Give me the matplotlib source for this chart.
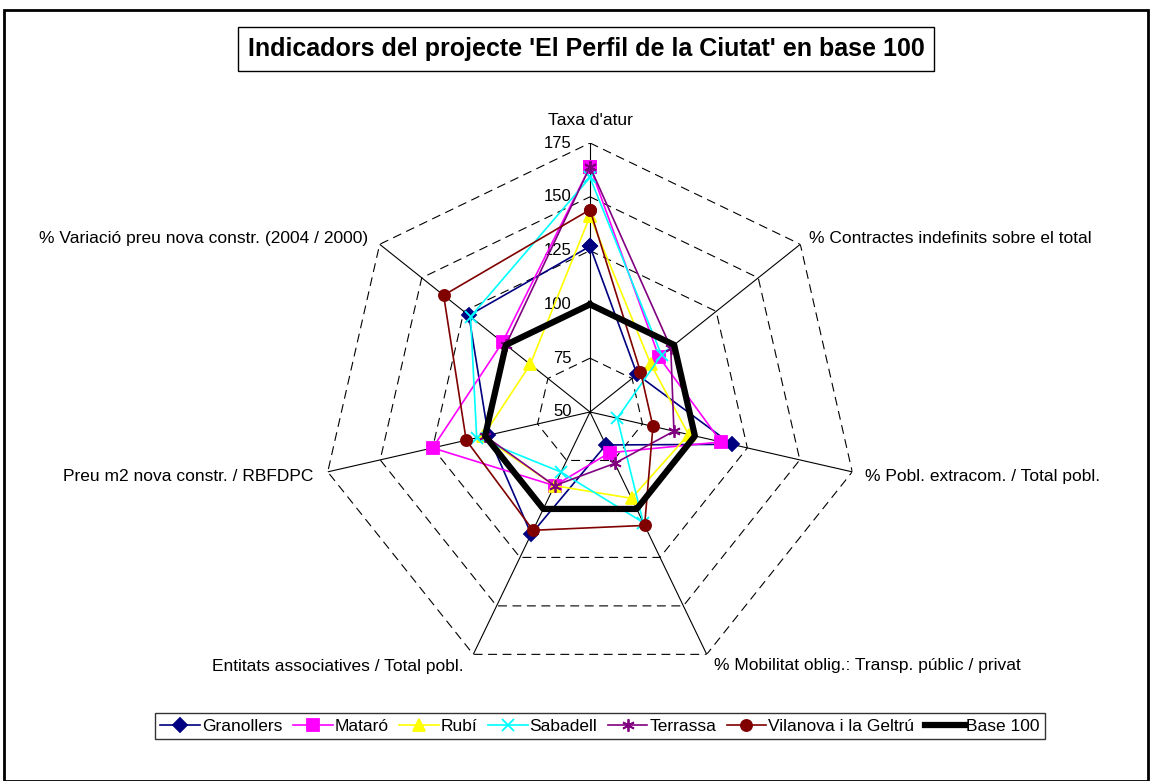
import numpy as np
import matplotlib
matplotlib.use("Agg")
import matplotlib.pyplot as plt
from matplotlib.patches import Rectangle

plt.rcParams['font.family'] = ['Liberation Sans', 'DejaVu Sans']

# Dades llegides del gràfic
categories = ["Taxa d'atur",
              "% Contractes indefinits sobre el total",
              "% Pobl. extracom. / Total pobl.",
              "% Mobilitat oblig.: Transp. públic / privat",
              "Entitats associatives / Total pobl.",
              "Preu m2 nova constr. / RBFDPC",
              "% Variació preu nova constr. (2004 / 2000)"]

granollers = [127, 78, 117.5, 67, 113, 98.5, 122]
mataro = [164, 91, 112.5, 71, 88, 125, 102]
rubi = [141, 86, 97, 94.5, 88, 101, 85.5]
sabadell = [159, 92.5, 63, 107, 81, 104, 121]
terrassa = [164, 98, 90, 76.5, 88, 100, 100]
vilanova = [144, 80, 80, 108.5, 111, 109, 137]
base100 = [100, 100, 100, 100, 100, 100, 100]

r_ticks = [50, 75, 100, 125, 150, 175]

series = [
    ("Granollers", granollers, "#000080", "D", 7),
    ("Mataró", mataro, "#FF00FF", "s", 8),
    ("Rubí", rubi, "#FFFF00", "^", 8),
    ("Sabadell", sabadell, "#00FFFF", "x", 8),
    ("Terrassa", terrassa, "#800080", (6, 2, 0), 9),
    ("Vilanova i la Geltrú", vilanova, "#800000", "o", 8),
]

n = len(categories)
theta = np.linspace(0, 2 * np.pi, n, endpoint=False)
theta_c = np.append(theta, theta[0])

fig = plt.figure(figsize=(11.51, 7.81), dpi=100)

# marc exterior
fig.patches.append(Rectangle((4 / 1151, 0), 1144 / 1151, 1 - 10 / 781,
                             transform=fig.transFigure, fill=False,
                             edgecolor="black", linewidth=2))

ax = fig.add_axes([321 / 1151, 100 / 781, 538 / 1151, 538 / 781],
                  projection="polar")
ax.set_theta_offset(np.pi / 2)
ax.set_theta_direction(-1)
ax.set_ylim(50, 175)
ax.grid(False)
ax.set_xticks([])
ax.set_yticks([])
ax.spines["polar"].set_visible(False)
ax.patch.set_alpha(0)

# graella poligonal discontinua
for r in r_ticks[1:]:
    ax.plot(theta_c, [r] * (n + 1), color="black", lw=0.8,
            linestyle=(0, (8, 5)), zorder=1)
# radis
for t in theta:
    ax.plot([t, t], [50, 175], color="black", lw=0.8, zorder=1)

# etiquetes de l'eix radial
for r in r_ticks:
    ax.annotate(str(r), (0, r), xytext=(-13, 0), textcoords="offset points",
                ha="right", va="center", fontsize=12)

# etiquetes de categories
label_pos = [
    ((0, 11), "center", "bottom"),
    ((6, 4), "left", "center"),
    ((9, -3), "left", "center"),
    ((5, -8), "left", "center"),
    ((-7, -9), "right", "center"),
    ((-10, -3), "right", "center"),
    ((-8, 4), "right", "center"),
]
for t, lab, (off, ha, va) in zip(theta, categories, label_pos):
    ax.annotate(lab, (t, 175), xytext=off, textcoords="offset points",
                ha=ha, va=va, fontsize=12.5)

handles = []
for name, vals, col, mk, ms in series:
    v = np.append(vals, vals[0])
    h, = ax.plot(theta_c, v, color=col, lw=1.2, marker=mk, markersize=ms,
                 markerfacecolor=col, markeredgecolor=col, markeredgewidth=1.3,
                 label=name, zorder=3, clip_on=False)
    handles.append(h)

v = np.append(base100, base100[0])
h, = ax.plot(theta_c, v, color="black", lw=4.5, label="Base 100", zorder=4)
handles.append(h)

leg = fig.legend(handles=handles, loc="center", ncol=7,
                 bbox_to_anchor=(600 / 1151, 1 - 726 / 781),
                 frameon=True, fancybox=False, fontsize=12.5,
                 handlelength=2.3, handletextpad=0.1, columnspacing=0.6,
                 borderpad=0.3, borderaxespad=0)
leg.get_frame().set_edgecolor("black")
leg.get_frame().set_linewidth(1.0)

fig.text(586 / 1151, 1 - 49 / 781,
         "Indicadors del projecte 'El Perfil de la Ciutat' en base 100",
         ha="center", va="center", fontsize=18, fontweight="bold",
         bbox=dict(facecolor="white", edgecolor="black", linewidth=1,
                   boxstyle="square,pad=0.4"))

fig.savefig("out.png", dpi=100)
